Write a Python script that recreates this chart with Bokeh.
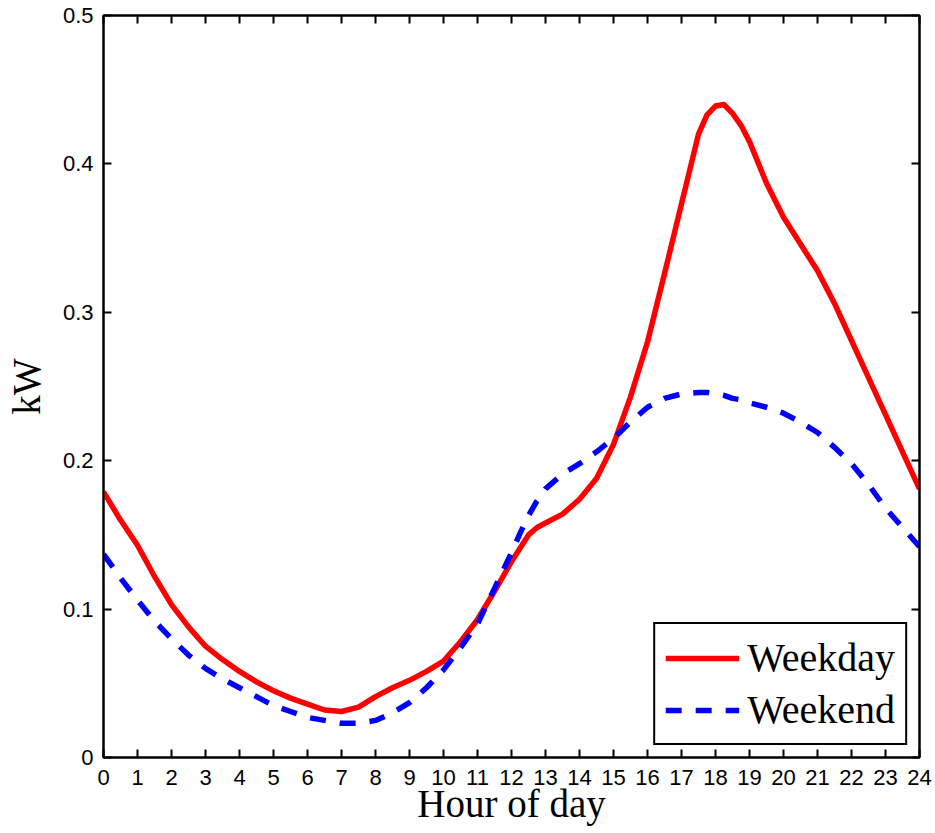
from bokeh.plotting import figure
from bokeh.models import Range1d, FixedTicker, LinearAxis, Legend
from bokeh.embed import file_html
from bokeh.resources import INLINE

# ---- data ----
hours = [0, 0.5, 1, 1.5, 2, 2.5, 3, 3.5, 4, 4.5, 5, 5.5, 6, 6.5, 7, 7.5, 8, 8.5,
         9, 9.5, 10, 10.5, 11, 11.5, 12, 12.25, 12.5, 12.75, 13, 13.5, 14, 14.5,
         15, 15.5, 16, 16.5, 17, 17.5, 17.75, 18, 18.25, 18.5, 18.75, 19, 19.5,
         20, 20.5, 21, 21.5, 22, 22.5, 23, 23.5, 24]
weekday = [0.179, 0.160, 0.143, 0.122, 0.103, 0.088, 0.075, 0.066, 0.058, 0.051,
           0.045, 0.040, 0.036, 0.032, 0.031, 0.034, 0.041, 0.047, 0.052, 0.058,
           0.065, 0.078, 0.093, 0.112, 0.132, 0.141, 0.150, 0.155, 0.158, 0.164,
           0.174, 0.188, 0.211, 0.243, 0.280, 0.326, 0.373, 0.420, 0.433, 0.439,
           0.440, 0.434, 0.426, 0.415, 0.387, 0.364, 0.346, 0.328, 0.306, 0.281,
           0.256, 0.231, 0.206, 0.181]
weekend = [0.137, 0.121, 0.106, 0.092, 0.080, 0.069, 0.060, 0.053, 0.047, 0.041,
           0.035, 0.031, 0.027, 0.025, 0.023, 0.023, 0.025, 0.030, 0.037, 0.047,
           0.059, 0.074, 0.090, 0.114, 0.138, 0.151, 0.163, 0.173, 0.181, 0.191,
           0.198, 0.206, 0.215, 0.226, 0.236, 0.242, 0.245, 0.246, 0.246, 0.245,
           0.244, 0.242, 0.241, 0.239, 0.236, 0.232, 0.226, 0.219, 0.209, 0.198,
           0.184, 0.168, 0.155, 0.142]
x_ticks = list(range(25))
y_ticks = [0, 0.1, 0.2, 0.3, 0.4, 0.5]
y_tick_labels = ["0", "0.1", "0.2", "0.3", "0.4", "0.5"]
x_label = "Hour of day"
y_label = "kW"
series_names = ["Weekday", "Weekend"]

SERIF = "Liberation Serif"
SANS = "Liberation Sans"

p = figure(width=935, height=833, output_backend="svg", toolbar_location=None,
           x_range=Range1d(0, 24), y_range=Range1d(0, 0.5),
           min_border_left=103, min_border_right=16, min_border_top=15,
           min_border_bottom=76)
p.xgrid.visible = False
p.ygrid.visible = False
p.outline_line_color = "black"
p.outline_line_width = 2
p.background_fill_color = "white"
p.border_fill_color = "white"

def style_axis(ax, ticks, labels=True):
    ax.axis_line_color = "black"
    ax.axis_line_width = 2
    ax.major_tick_line_color = "black"
    ax.major_tick_line_width = 2
    ax.major_tick_in = 8
    ax.major_tick_out = 0
    ax.minor_tick_line_color = None
    if labels:
        ax.major_label_text_font = SANS
        ax.major_label_text_font_size = "22px"
        ax.major_label_text_color = "black"
    else:
        ax.major_label_overrides = {t: "" for t in ticks}
        ax.major_label_text_font_size = "1px"
        ax.major_label_standoff = 0

xa = p.xaxis[0]
xa.ticker = FixedTicker(ticks=x_ticks)
style_axis(xa, x_ticks)
xa.major_label_standoff = 12
xa.axis_label = x_label
xa.axis_label_text_font = SERIF
xa.axis_label_text_font_size = "39px"
xa.axis_label_text_font_style = "normal"
xa.axis_label_text_color = "black"
xa.axis_label_standoff = -6

ya = p.yaxis[0]
ya.ticker = FixedTicker(ticks=y_ticks)
ya.major_label_overrides = {t: l for t, l in zip(y_ticks, y_tick_labels)}
style_axis(ya, y_ticks)
ya.major_label_standoff = 10
ya.axis_label = y_label
ya.axis_label_text_font = SERIF
ya.axis_label_text_font_size = "39px"
ya.axis_label_text_font_style = "normal"
ya.axis_label_text_color = "black"
ya.axis_label_standoff = 12

top = LinearAxis(ticker=FixedTicker(ticks=x_ticks))
style_axis(top, x_ticks, labels=False)
p.add_layout(top, "above")
right = LinearAxis(ticker=FixedTicker(ticks=y_ticks))
style_axis(right, y_ticks, labels=False)
p.add_layout(right, "right")

r1 = p.line(hours, weekday, line_color="#ff0000", line_width=5.5,
            line_join="round")
r2 = p.line(hours, weekend, line_color="#0000ff", line_width=5.5,
            line_dash="16 14")

legend = Legend(items=[(series_names[0], [r1]), (series_names[1], [r2])],
                location="bottom_right", margin=12)
legend.border_line_color = "black"
legend.border_line_alpha = 1
legend.border_line_width = 2
legend.background_fill_color = "white"
legend.background_fill_alpha = 1
legend.label_text_font = SERIF
legend.label_text_font_size = "40px"
legend.label_text_color = "black"
legend.glyph_width = 74
legend.glyph_height = 38
legend.label_height = 38
legend.label_standoff = 8
legend.spacing = 5
legend.padding = 10
p.add_layout(legend, "center")

open("out.html", "w").write(file_html(p, INLINE))
